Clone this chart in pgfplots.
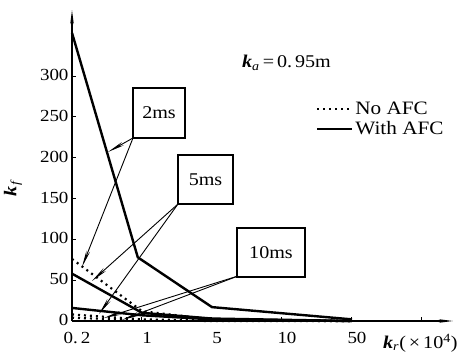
\documentclass[border=0pt]{standalone}
\usepackage{fontspec}
\setmainfont{Liberation Serif}[FakeStretch=1.12]
\usepackage{pgfplots}
\pgfplotsset{compat=1.18}
\usetikzlibrary{arrows.meta}

\pgfplotstableread{
x y
0 353
0.94 78
2 17
4 2
}\twoafc
\pgfplotstableread{
x y
0 76
1 12
2 2
4 0
}\twono
\pgfplotstableread{
x y
0 58
1 10
2 3
4 0
}\fiveafc
\pgfplotstableread{
x y
0 8
1 2
2 0.5
4 0
}\fiveno
\pgfplotstableread{
x y
0 16
1 7
2 2
4 0
}\tenafc
\pgfplotstableread{
x y
0 4
1 1
2 0
4 0
}\tenno

\begin{document}
\begin{tikzpicture}
\begin{axis}[
  at={(0bp,0bp)}, anchor=south west,
  scale only axis, width=381bp, height=311bp,
  xmin=0, xmax=5.443, ymin=0, ymax=381,
  axis x line=bottom, axis y line=left,
  axis line style={line width=1.4bp, -{Stealth[length=14bp,width=3.5bp]}},
  xtick={0,1,2,3,4,5}, xticklabels={0.\,2,1,5,10,50,{}},
  ytick={0,50,...,300},
  tick align=inside, major tick length=4bp,
  tick style={line width=1bp, black},
  ticklabel style={font=\fontsize{17}{19}\selectfont},
  yticklabel style={yshift=1bp},
  xticklabel style={yshift=-8bp, xshift=5bp},
  /pgf/number format/assume math mode=true,
  clip=false,
  legend style={draw=none, fill=none, at={(0.64,0.71)}, anchor=north west,
    font=\fontsize{19}{21}\selectfont, inner sep=0pt, row sep=1bp},
  legend cell align=left,
  legend image code/.code={\draw[#1] (0bp,0bp) -- (35bp,0bp);},
  nofc/.style={black, line width=2.2bp, dash pattern=on 2bp off 4bp},
  afc/.style={black, line width=2.4bp},
]
\addlegendimage{nofc}
\addlegendentry{No AFC}
\addlegendimage{afc}
\addlegendentry{With AFC}
\addplot[afc, forget plot] table {\twoafc};
\addplot[nofc, forget plot] table {\twono};
\addplot[afc, forget plot] table {\fiveafc};
\addplot[nofc, forget plot] table {\fiveno};
\addplot[afc, forget plot] table {\tenafc};
\addplot[nofc, forget plot] table {\tenno};
\end{axis}
% annotation boxes
\begin{scope}[line width=1.2bp, font=\fontsize{18}{20}\selectfont]
\draw (61bp,183bp) rectangle (113bp,233bp);
\node at (87bp,208bp) {2ms};
\draw (106bp,117bp) rectangle (161bp,166bp);
\node at (133.5bp,141.5bp) {5ms};
\draw (165bp,44bp) rectangle (233bp,93bp);
\node at (199bp,68.5bp) {10ms};
\end{scope}
\begin{scope}[line width=0.9bp, -{Stealth[length=17bp,width=3.8bp]}]
\draw (61bp,183bp) -- (36bp,169bp);
\draw (61bp,183bp) -- (10bp,54bp);
\draw (106bp,117bp) -- (20bp,40bp);
\draw (106bp,117bp) -- (27bp,7bp);
\draw (166bp,45bp) -- (32bp,3bp);
\draw (166bp,45bp) -- (50bp,1bp);
\end{scope}
% labels
\node[font=\fontsize{18}{20}\selectfont, anchor=west, inner sep=0pt] at (170bp,258bp)
  {\textbf{\textit{k}}\textsubscript{\textit{a}}\,=\,0.\,95m};
\node[font=\fontsize{18}{20}\selectfont, rotate=90] at (-59bp,133bp)
  {\textbf{\textit{k}}\textsubscript{\textit{f}}};
\node[font=\fontsize{18}{20}\selectfont, anchor=west, inner sep=0pt] at (311bp,-22bp)
  {\textbf{\textit{k}}\textsubscript{\textit{r}}(\,×\,10\textsuperscript{4})};
\pgfresetboundingbox
\path (-72bp,-33bp) rectangle (402bp,321bp);
\end{tikzpicture}
\end{document}
